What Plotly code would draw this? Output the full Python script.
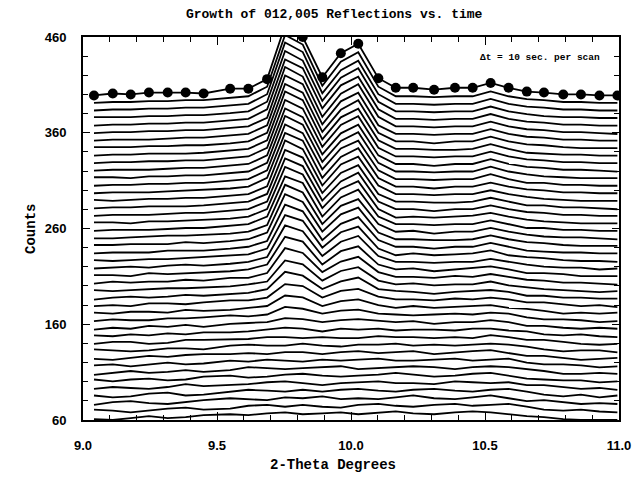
import plotly.graph_objects as go

# 2-theta positions of each scan point (degrees)
two_theta = [9.041, 9.111, 9.178, 9.246, 9.316, 9.383, 9.450, 9.549, 9.617, 9.687,
             9.754, 9.820, 9.893, 9.962, 10.027, 10.102, 10.167, 10.232, 10.310, 10.388,
             10.454, 10.521, 10.588, 10.656, 10.720, 10.792, 10.858, 10.927, 10.994]

# Raw counts per scan, first scan first (one scan every 10 s)
scans = [
    [61,60,62,64,62,63,65,66,65,67,68,66,67,68,66,68,69,67,66,68,69,68,66,64,63,61,60,60,60],
    [63,62,60,62,64,65,63,64,67,68,66,68,66,65,68,69,67,66,68,69,67,68,69,66,63,62,63,61,60],
    [60,63,64,62,61,63,65,67,66,65,68,67,69,66,67,66,68,70,67,66,68,70,67,64,65,63,61,62,61],
    [62,60,61,64,65,62,63,66,68,67,66,68,66,68,69,67,66,68,69,67,66,68,69,66,63,61,63,60,62],
    [61,63,62,61,63,66,64,65,66,68,69,67,65,67,68,69,67,67,66,69,68,67,68,65,65,63,61,62,60],
    [63,61,63,64,62,63,66,67,65,66,68,69,67,66,67,68,70,68,66,67,69,70,67,64,63,62,62,60,61],
    [60,62,64,62,63,65,63,65,68,67,66,67,68,69,66,67,68,69,68,66,68,69,68,66,64,61,61,62,61],
    [62,63,61,63,65,63,64,67,66,68,67,66,68,67,68,69,67,67,68,69,67,68,69,65,63,63,62,60,61],
    [61,60,62,64,63,65,66,66,67,66,68,68,66,68,69,67,68,69,66,68,69,70,67,64,64,62,60,61,62],
    [63,62,61,62,64,64,63,67,68,67,67,69,67,66,68,68,69,67,68,67,68,69,68,66,63,61,62,62,60],
    [61,63,63,61,62,65,65,66,66,68,68,67,68,67,67,69,68,68,67,68,67,70,68,65,65,63,61,60,61],
    [62,61,63,62,64,63,65,65,66,68,70,69,66,69,68,69,67,68,68,67,69,69,67,66,63,62,63,61,60],
    [60,62,61,64,63,65,63,66,67,68,72,71,68,70,71,69,68,69,66,68,68,70,68,64,64,62,61,62,61],
    [61,63,62,62,64,64,65,67,66,68,76,74,69,72,73,69,68,67,68,69,68,70,69,65,63,63,62,60,61],
    [62,61,63,63,62,65,64,65,67,69,80,78,69,74,76,70,67,69,67,68,69,70,67,66,64,61,62,61,62],
    [61,62,61,64,64,63,65,67,67,70,84,82,70,77,79,71,68,68,67,69,68,70,68,65,65,63,61,62,60],
    [60,62,63,62,63,65,64,66,67,71,89,85,71,79,83,71,69,68,66,68,69,70,68,64,64,62,62,61,61],
    [62,61,62,63,64,64,65,66,68,71,93,89,72,82,86,72,68,69,67,68,68,71,67,65,63,62,61,60,61],
    [61,63,62,63,63,65,64,67,67,72,98,93,73,84,89,73,68,68,67,69,68,71,68,65,64,62,62,61,60],
    [62,62,61,64,63,64,65,66,68,73,102,97,73,87,92,73,68,69,66,68,69,71,68,64,64,63,61,61,61],
    [61,62,63,62,64,65,64,66,68,73,106,100,74,89,95,74,68,68,67,68,68,71,68,65,63,62,62,60,61],
    [62,61,62,63,63,64,65,67,68,74,109,103,75,91,97,74,67,69,67,68,69,72,67,65,64,62,61,61,60],
    [61,62,62,62,64,64,64,66,68,74,112,105,75,92,99,75,68,68,66,68,68,72,68,64,63,62,62,61,61],
    [62,62,63,63,63,65,64,66,68,75,115,107,76,94,101,75,68,68,67,67,68,72,68,65,64,62,61,61,61],
    [61,61,62,63,64,64,65,66,68,75,117,109,76,95,102,76,68,69,66,68,68,72,68,65,63,62,62,61,60],
    [61,62,62,62,63,64,64,66,68,76,118,111,76,96,104,76,68,68,67,68,68,72,68,64,64,62,62,61,61],
    [62,62,61,63,63,64,65,66,68,76,120,112,77,97,105,76,67,68,67,68,69,72,68,65,63,62,61,61,61],
    [61,62,62,62,63,64,64,66,68,76,121,113,77,97,106,76,68,68,66,68,68,72,68,65,64,62,62,61,61],
    [61,62,62,63,63,63,64,66,68,76,122,114,77,98,106,76,68,68,67,67,68,72,68,64,64,62,62,61,60],
    [62,61,62,63,63,64,64,66,68,76,124,115,77,99,107,77,68,68,67,68,68,72,68,65,63,62,61,61,61],
    [61,62,62,62,63,64,65,66,68,77,124,116,77,99,108,77,68,68,66,68,68,72,68,65,64,62,62,61,61],
    [61,62,62,63,63,64,64,66,68,77,125,116,78,100,108,77,68,68,67,68,68,73,68,64,64,62,62,61,61],
    [62,62,61,63,63,64,64,66,68,77,126,117,78,100,109,77,68,68,67,68,68,73,68,65,63,62,61,61,61],
    [61,62,62,62,63,64,64,66,68,77,126,117,78,100,109,77,68,68,66,68,68,73,68,65,64,62,62,61,60],
    [61,62,62,63,63,64,64,66,68,77,127,118,78,101,110,77,68,68,67,68,68,73,68,65,64,62,62,61,61],
    [61,62,62,63,63,63,64,66,68,77,128,119,78,101,110,77,68,68,67,67,68,73,68,64,63,62,62,61,61],
    [62,62,62,63,63,64,64,66,68,77,128,119,78,101,111,77,68,68,66,68,68,73,68,65,64,62,61,61,61],
    [61,62,62,62,63,64,64,66,68,77,129,120,78,102,111,77,68,68,67,68,68,73,68,65,64,62,62,61,61],
    [61,62,62,63,63,64,64,66,68,77,130,120,78,102,112,78,68,68,67,68,68,73,68,65,64,62,62,61,60],
    [61,62,62,63,63,64,64,66,68,78,130,121,79,103,112,78,68,68,67,68,68,73,68,65,64,62,62,61,61],
    [62,62,62,63,63,64,64,66,68,78,131,121,79,103,113,78,68,68,67,68,68,73,68,65,63,62,62,61,61],
    [61,62,62,63,63,64,64,66,68,78,132,122,79,103,113,78,68,68,67,68,68,73,68,65,64,62,62,61,61],
    [61,62,62,63,63,64,64,66,68,78,132,122,79,104,114,78,68,68,67,68,68,73,68,65,64,62,62,61,61],
    [61,63,62,64,64,64,63,68,68,78,134,122,80,105,115,79,69,69,67,69,69,74,69,65,64,62,62,61,61],
]

# vertical stacking step between successive scans (counts)
SCAN_STEP = 7.86

y_ticks = [60, 160, 260, 360, 460]
x_ticks = [9.0, 9.5, 10.0, 10.5, 11.0]
x_tick_text = ["9.0", "9.5", "10.0", "10.5", "11.0"]

fig = go.Figure()
n = len(scans)
for k, counts in enumerate(scans):
    shifted = [c + k * SCAN_STEP for c in counts]
    last = (k == n - 1)
    fig.add_trace(go.Scatter(
        x=two_theta, y=shifted,
        mode="lines+markers" if last else "lines",
        line=dict(color="black", width=1.8),
        marker=dict(color="black", size=10) if last else None,
        cliponaxis=True,
        showlegend=False,
        hoverinfo="skip",
    ))

tick_font = dict(family="Liberation Sans Narrow, Liberation Sans, Arial", size=13,
                 color="black", weight="bold")
mono = "Liberation Mono, Courier New, monospace"

fig.update_layout(
    width=634, height=477,
    margin=dict(l=83, r=15, t=37, b=57),
    paper_bgcolor="white", plot_bgcolor="white",
    title=dict(text="Growth of 012,005 Reflections vs. time",
               font=dict(family=mono, size=13, color="black", weight="bold"),
               x=0.527, xanchor="center", y=0.972, yanchor="middle"),
    xaxis=dict(range=[9.0, 11.0], tickvals=x_ticks, ticktext=x_tick_text,
               ticks="inside", ticklen=8, tickwidth=1.2, tickcolor="black",
               minor=dict(dtick=0.1, tick0=9.0, ticks="inside", ticklen=5,
                          tickwidth=1, tickcolor="black"),
               showline=True, linecolor="black", linewidth=2, mirror="allticks",
               showgrid=False, zeroline=False, tickfont=tick_font,
               ticklabelstandoff=12, automargin=False),
    yaxis=dict(range=[60, 460], tickvals=y_ticks,
               ticks="inside", ticklen=7, tickwidth=1.2, tickcolor="black",
               minor=dict(dtick=20, tick0=60, ticks="inside", ticklen=5,
                          tickwidth=1, tickcolor="black"),
               showline=True, linecolor="black", linewidth=2, mirror="allticks",
               showgrid=False, zeroline=False, tickfont=tick_font,
               ticklabelstandoff=12, automargin=False),
    annotations=[
        dict(text="2-Theta Degrees", xref="paper", yref="paper",
             x=0.466, y=-0.118, xanchor="center", yanchor="middle", showarrow=False,
             font=dict(family=mono, size=14, color="black", weight="bold")),
        dict(text="Counts", xref="paper", yref="paper", textangle=-90,
             x=-0.098, y=0.5, xanchor="center", yanchor="middle", showarrow=False,
             font=dict(family=mono, size=14, color="black", weight="bold")),
        dict(text="\u0394t = 10 sec. per scan", xref="paper", yref="paper",
             x=0.853, y=0.947, xanchor="center", yanchor="middle", showarrow=False,
             font=dict(family=mono, size=9.5, color="black", weight="bold")),
    ],
)

fig.write_html("out.html")
